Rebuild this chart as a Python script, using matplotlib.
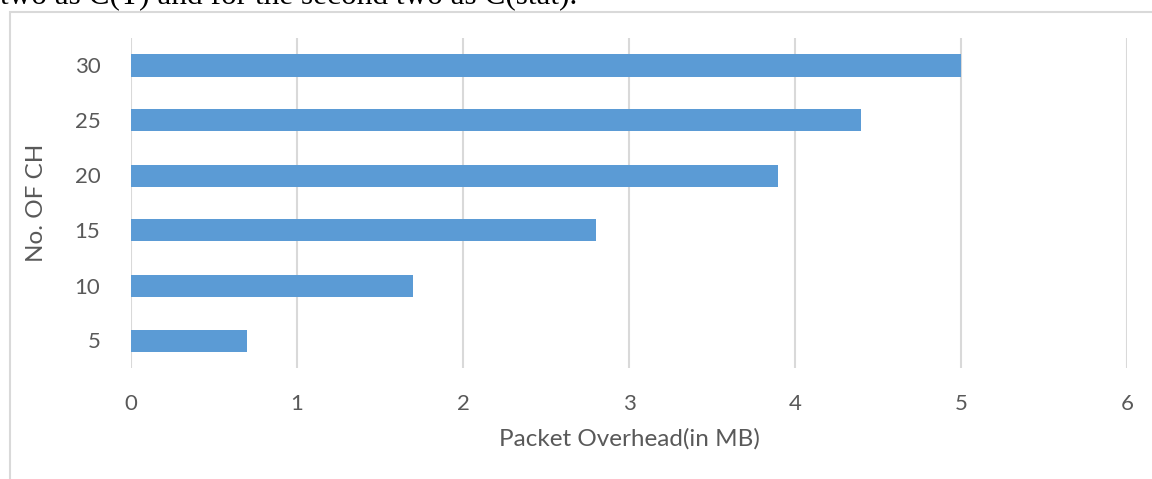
import matplotlib.pyplot as plt
from matplotlib.patches import Rectangle

categories = ['5', '10', '15', '20', '25', '30']
overhead = [0.7, 1.7, 2.8, 3.9, 4.4, 5.0]
x_ticks = [0, 1, 2, 3, 4, 5, 6]

plt.rcParams['font.family'] = ['Lato', 'DejaVu Sans']
txt = '#595959'

fig = plt.figure(figsize=(11.52, 4.79), dpi=100)
ax = fig.add_axes([131 / 1152, 1 - 368 / 479, 996 / 1152, 330 / 479])

ax.barh(range(len(categories)), overhead, height=0.4, color='#5B9BD5', zorder=3)
ax.set_xlim(0, 6)
ax.set_ylim(-0.5, len(categories) - 0.5)
ax.set_xticks(x_ticks)
ax.set_yticks(range(len(categories)))
ax.set_yticklabels(categories)
ax.grid(axis='x', color='#D9D9D9', linewidth=1.5, zorder=0)
for s in ax.spines.values():
    s.set_visible(False)
ax.tick_params(length=0, labelsize=16, colors=txt)
ax.tick_params(axis='x', pad=19)
ax.tick_params(axis='y', pad=22)
ax.set_xlabel('Packet Overhead(in MB)', fontsize=17.5, color=txt, labelpad=10)
ax.set_ylabel('No. OF CH', fontsize=17.5, color=txt, labelpad=20)

# chart frame and the clipped document line above it
fig.patches.append(Rectangle((10 / 1152, -0.1), 1.2, 1 - 12 / 479 + 0.1,
                             transform=fig.transFigure, fill=False,
                             edgecolor='#D9D9D9', linewidth=1.5))
fig.text(0.0, 1 - 4 / 479, 'two as C(T) and for the second two as C(stat).',
         fontsize=22.5, family='Liberation Serif', va='baseline', color='black')

fig.savefig('out.png', dpi=100)
